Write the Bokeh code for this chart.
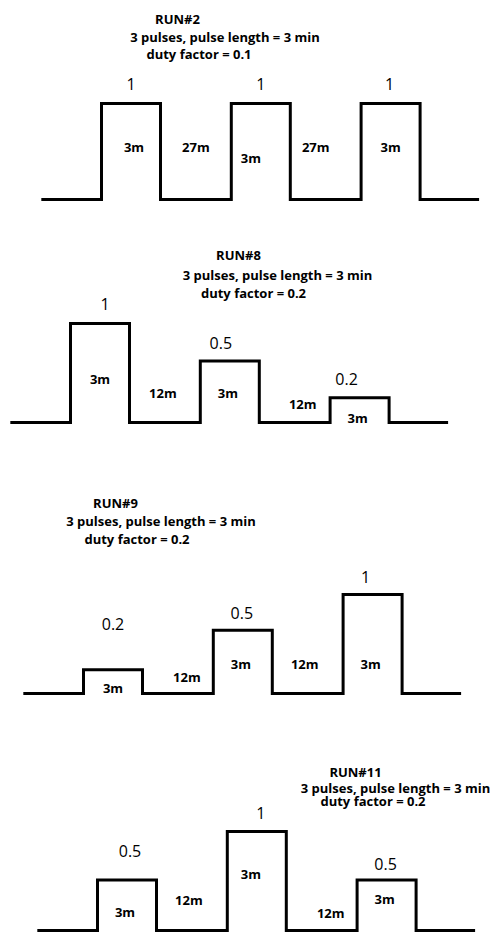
from bokeh.plotting import figure
from bokeh.models import Range1d, Label
from bokeh.layouts import column
from bokeh.embed import file_html
from bokeh.resources import INLINE
from bokeh.core.properties import value

# ---------------- data ----------------
run2_title = ["RUN#2", "3 pulses, pulse length = 3 min", "duty factor = 0.1"]
run2_amplitudes = ["1", "1", "1"]
run2_levels = [1.0, 1.0, 1.0]          # drawn pulse heights (relative to tallest pulse)
run2_pulse_labels = ["3m", "3m", "3m"]
run2_gap_labels = ["27m", "27m"]

run8_title = ["RUN#8", "3 pulses, pulse length = 3 min", "duty factor = 0.2"]
run8_amplitudes = ["1", "0.5", "0.2"]
run8_levels = [1.0, 0.62, 0.25]
run8_pulse_labels = ["3m", "3m", "3m"]
run8_gap_labels = ["12m", "12m"]

run9_title = ["RUN#9", "3 pulses, pulse length = 3 min", "duty factor = 0.2"]
run9_amplitudes = ["0.2", "0.5", "1"]
run9_levels = [0.24, 0.64, 1.0]
run9_pulse_labels = ["3m", "3m", "3m"]
run9_gap_labels = ["12m", "12m"]

run11_title = ["RUN#11", "3 pulses, pulse length = 3 min", "duty factor = 0.2"]
run11_amplitudes = ["0.5", "1", "0.5"]
run11_levels = [0.51, 1.0, 0.51]
run11_pulse_labels = ["3m", "3m", "3m"]
run11_gap_labels = ["12m", "12m"]

# ---------------- layout / styles ----------------
PX_X = 59.0                       # px per schematic unit (one pulse width)
PULSE_W, GAP_W, LEAD_W, TAIL_W = 1.0, 1.2, 1.02, 1.0
FIG_W = 497
FONT = "Open Sans"

panels = [
    dict(title=run2_title, amps=run2_amplitudes, levels=run2_levels,
         plabels=run2_pulse_labels, glabels=run2_gap_labels,
         h=212, bottom_ref=212, first_edge=101, base=13, unit_h=96,
         tx=[177, 224.5, 198.5], ty=[18, 36, 53], talign=["center", "center", "center"],
         amp_dy=[20, 20, 20], amp_dx=[0, 0, -1],
         pl_dy=[53, 42, 53], pl_dx=[3, -10, 0],
         gl_dy=[53, 53], gl_dx=[0, -10]),
    dict(title=run8_title, amps=run8_amplitudes, levels=run8_levels,
         plabels=run8_pulse_labels, glabels=run8_gap_labels,
         h=235, bottom_ref=447, first_edge=70, base=25, unit_h=99,
         tx=[238, 277, 253], ty=[254, 274, 292], talign=["center", "center", "center"],
         amp_dy=[20, 18, 19], amp_dx=[5, -9, -13],
         pl_dy=[44, 30, 5], pl_dx=[0, -2, -2],
         gl_dy=[30, 19], gl_dx=[-2, 8]),
    dict(title=run9_title, amps=run9_amplitudes, levels=run9_levels,
         plabels=run9_pulse_labels, glabels=run9_gap_labels,
         h=253, bottom_ref=700, first_edge=83, base=7, unit_h=99,
         tx=[115, 160.5, 136.5], ty=[502, 520, 538], talign=["center", "center", "center"],
         amp_dy=[46, 17, 18], amp_dx=[0, -1, -7],
         pl_dy=[6, 30, 30], pl_dx=[0, -2, -2],
         gl_dy=[17, 30], gl_dx=[9, -3]),
    dict(title=run11_title, amps=run11_amplitudes, levels=run11_levels,
         plabels=run11_pulse_labels, glabels=run11_gap_labels,
         h=232, bottom_ref=932, first_edge=97, base=2, unit_h=99,
         tx=[355, 395, 372.5], ty=[771, 787, 800], talign=["center", "center", "center"],
         amp_dy=[29, 19, 16], amp_dx=[3, 4, -1],
         pl_dy=[19, 57, 32], pl_dx=[-2, -6, -2],
         gl_dy=[31, 18], gl_dx=[-3, 9]),
]


def make_panel(cfg):
    x0 = -cfg["first_edge"] / PX_X
    y0 = -cfg["base"] / cfg["unit_h"]
    p = figure(width=FIG_W, height=cfg["h"], output_backend="svg", toolbar_location=None,
               x_range=Range1d(x0, x0 + FIG_W / PX_X),
               y_range=Range1d(y0, y0 + cfg["h"] / cfg["unit_h"]),
               min_border=0, min_border_left=0, min_border_right=0,
               min_border_top=0, min_border_bottom=0)
    p.axis.visible = False
    p.grid.visible = False
    p.outline_line_color = None
    p.background_fill_color = "white"
    p.border_fill_color = "white"

    # pulse train
    levels = cfg["levels"]
    xs, ys = [-LEAD_W], [0.0]
    starts, ends = [], []
    x = 0.0
    for i, lv in enumerate(levels):
        starts.append(x)
        xs += [x, x]
        ys += [0.0, lv]
        x += PULSE_W
        ends.append(x)
        xs += [x, x]
        ys += [lv, 0.0]
        if i < len(levels) - 1:
            x += GAP_W
    xs.append(x + TAIL_W)
    ys.append(0.0)
    p.line(xs, ys, line_width=3, line_color="black", line_join="miter")

    u = cfg["unit_h"]
    centers = [(s + e) / 2 for s, e in zip(starts, ends)]
    # amplitude labels above pulses
    p.text(x=[c + dx / PX_X for c, dx in zip(centers, cfg["amp_dx"])],
           y=[lv + dy / u for lv, dy in zip(levels, cfg["amp_dy"])],
           text=cfg["amps"], text_align="center", text_baseline="middle",
           text_font=value(FONT), text_font_size="16px", text_color="black")
    # pulse length labels inside pulses
    p.text(x=[c + dx / PX_X for c, dx in zip(centers, cfg["pl_dx"])],
           y=[dy / u for dy in cfg["pl_dy"]],
           text=cfg["plabels"], text_align="center", text_baseline="middle",
           text_font=value(FONT), text_font_size="13px", text_font_style="bold",
           text_color="black")
    # gap labels
    gcenters = [(ends[i] + starts[i + 1]) / 2 for i in range(len(levels) - 1)]
    p.text(x=[c + dx / PX_X for c, dx in zip(gcenters, cfg["gl_dx"])],
           y=[dy / u for dy in cfg["gl_dy"]],
           text=cfg["glabels"], text_align="center", text_baseline="middle",
           text_font=value(FONT), text_font_size="13px", text_font_style="bold",
           text_color="black")
    # title block
    for line, tx, ty, al in zip(cfg["title"], cfg["tx"], cfg["ty"], cfg["talign"]):
        p.add_layout(Label(x=tx, y=cfg["bottom_ref"] - ty, x_units="screen", y_units="screen",
                           text=line, text_align=al, text_baseline="middle",
                           text_font=FONT, text_font_size="13px", text_font_style="bold",
                           text_color="black"))
    return p


layout = column(*[make_panel(c) for c in panels], spacing=0)
open("out.html", "w").write(file_html(layout, INLINE))
